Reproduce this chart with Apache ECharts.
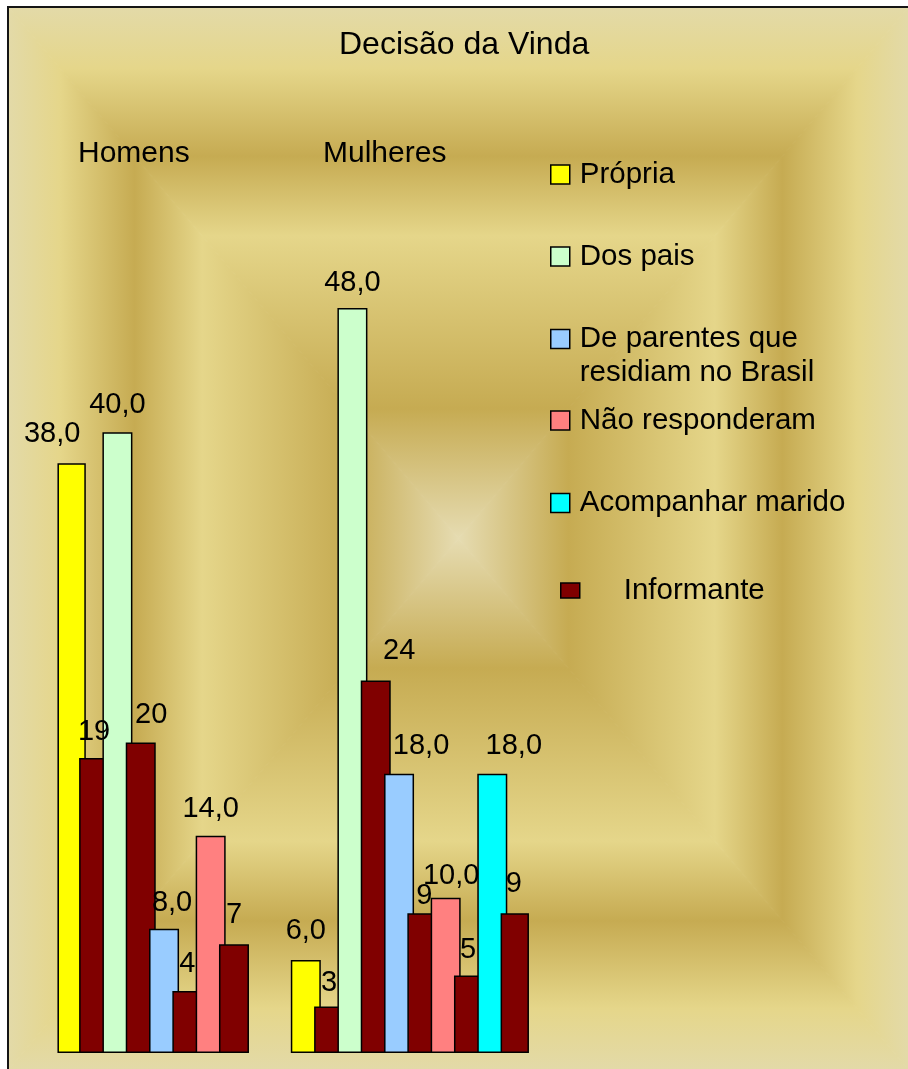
<!DOCTYPE html>
<html>
<head>
<meta charset="utf-8">
<script src="https://cdn.jsdelivr.net/npm/echarts@6/dist/echarts.min.js"></script>
<style>
  html, body { margin: 0; padding: 0; background: #ffffff; }
  #chart { width: 908px; height: 1069px; }
</style>
</head>
<body>
<div id="chart"></div>
<script>
// Groups on the category axis
const groups = ['Homens', 'Mulheres'];

// Who decided the move (percent of each group)
const reasons = ['Própria', 'Dos pais', 'De parentes que residiam no Brasil', 'Não responderam', 'Acompanhar marido'];
const percentHomens   = [38, 40, 8, 14, null];
const percentMulheres = [6, 48, 18, 10, 18];

// Number of informants behind each percentage
const informantLabel = 'Informante';
const informHomens   = [19, 20, 4, 7, null];
const informMulheres = [3, 24, 9, 5, 9];

const reasonColors = ['#ffff00', '#ccffcc', '#99ccff', '#ff8080', '#00ffff'];
const informColor = '#800000';

// Label nudges [dx, dy] per reason, per group (keeps crowded labels readable)
const pctNudge = [
  [[-19.5, -2], [0, -2]],
  [[0, 0], [0, 2]],
  [[8, 1], [22, -1]],
  [[0, 0], [5.5, 5]],
  [[0, 0], [21.5, -1]]
];
const infNudge = [
  [[0, 1], [0, 3.5]],
  [[10.5, -1], [23.5, -3]],
  [[0, 0], [2, 10]],
  [[0, -2], [-1, 2]],
  [[0, 0], [-1, -2]]
];

const FONT = '"Liberation Sans", Arial, sans-serif';
const LEGEND_FONT = 29.5;

function items(values, nudges) {
  return values.map((v, g) => ({
    value: v,
    label: { offset: nudges[g] }
  }));
}

const labelBase = {
  show: true,
  position: 'top',
  distance: 12.5,
  color: '#000',
  fontSize: 29,
  fontFamily: FONT
};

const barCommon = {
  type: 'bar',
  barWidth: 30,
  barGap: '-22.3%',
  barCategoryGap: 0
};

const series = [];
reasons.forEach((r, i) => {
  series.push(Object.assign({}, barCommon, {
    name: r,
    data: items([percentHomens[i], percentMulheres[i]], pctNudge[i]),
    itemStyle: { color: reasonColors[i], borderColor: '#000', borderWidth: 1.5 },
    label: Object.assign({}, labelBase, {
      formatter: p => p.value == null ? '' : p.value.toFixed(1).replace('.', ',')
    })
  }));
  series.push(Object.assign({}, barCommon, {
    name: informantLabel,
    data: items([informHomens[i], informMulheres[i]], infNudge[i]),
    itemStyle: { color: informColor, borderColor: '#000', borderWidth: 1.5 },
    label: Object.assign({}, labelBase, {
      formatter: p => p.value == null ? '' : String(p.value)
    })
  }));
});

// One legend block per entry so each row sits where it should
const legendText = (padding) => ({
  fontSize: LEGEND_FONT, fontFamily: FONT, color: '#000', lineHeight: 34, padding: padding
});
const legendRow = (name, left, top, extra) => Object.assign({
  data: [name],
  left: left,
  top: top,
  padding: 0,
  orient: 'vertical',
  icon: 'rect',
  itemWidth: 19,
  itemHeight: 19,
  selectedMode: false,
  itemStyle: { borderColor: '#000', borderWidth: 1.5 },
  textStyle: legendText([0, 0, 0, 5])
}, extra || {});

const legends = [
  legendRow(reasons[0], 550, 157.5),
  legendRow(reasons[1], 550, 239.5),
  // leading blank line keeps the key square level with the first text line
  legendRow(reasons[2], 550, 288, {
    formatter: () => '\nDe parentes que\nresidiam no Brasil'
  }),
  legendRow(reasons[3], 550, 403.5),
  legendRow(reasons[4], 550, 486),
  legendRow(informantLabel, 560, 573.5, {
    itemWidth: 19,
    itemHeight: 15,
    textStyle: legendText([0, 0, 0, 39])
  })
];

// Rectangular "from centre" gradient for the chart area
const X0 = 9, Y0 = 8, X1 = 908, Y1 = 1069;
const CX = (X0 + X1) / 2, CY = (Y0 + Y1) / 2;
const bandStops = [
  [0, '#e6dcb2'],
  [0.245, '#c6ab52'],
  [0.57, '#e5d68a'],
  [0.72, '#c6ab52'],
  [0.885, '#e5d68a'],
  [1, '#e3daa8']
];
function grad(horizontal, outwardFirst) {
  const stops = bandStops.map(([t, c]) => ({ offset: outwardFirst ? 1 - t : t, color: c }));
  stops.sort((a, b) => a.offset - b.offset);
  return {
    type: 'linear',
    x: 0, y: 0,
    x2: horizontal ? 1 : 0,
    y2: horizontal ? 0 : 1,
    colorStops: stops
  };
}
function wedge(points, fill) {
  return { type: 'polygon', z: -10, silent: true, shape: { points: points }, style: { fill: fill, stroke: fill, lineWidth: 1 } };
}
const background = [
  wedge([[X0, Y0], [X1, Y0], [CX, CY]], grad(false, true)),
  wedge([[X0, Y1], [X1, Y1], [CX, CY]], grad(false, false)),
  wedge([[X0, Y0], [X0, Y1], [CX, CY]], grad(true, true)),
  wedge([[X1, Y0], [X1, Y1], [CX, CY]], grad(true, false)),
  { type: 'rect', z: -5, silent: true, shape: { x: 8, y: 7, width: 1000, height: 1100 },
    style: { fill: null, stroke: '#151515', lineWidth: 2 } }
];

const titleStyle = (size, lh) => ({ fontSize: size, fontWeight: 'normal', color: '#000', fontFamily: FONT, lineHeight: lh });

const chart = echarts.init(document.getElementById('chart'), null, { renderer: 'canvas' });
chart.setOption({
  backgroundColor: '#ffffff',
  animation: false,
  title: [
    { text: 'Decisão da Vinda', left: 339, top: 27, padding: 0, textStyle: titleStyle(32, 36) },
    { text: groups[0], left: 78, top: 137, padding: 0, textStyle: titleStyle(30, 34) },
    { text: groups[1], left: 323, top: 137, padding: 0, textStyle: titleStyle(30, 34) }
  ],
  legend: legends,
  graphic: background,
  grid: { left: 58.2, width: 470, top: 277, bottom: 16, containLabel: false },
  xAxis: {
    type: 'category',
    data: groups,
    axisLine: { show: false },
    axisTick: { show: false },
    axisLabel: { show: false },
    splitLine: { show: false }
  },
  yAxis: {
    type: 'value',
    min: 0,
    max: 50,
    interval: 10,
    show: false,
    splitLine: { show: false }
  },
  series: series
});
</script>
</body>
</html>
